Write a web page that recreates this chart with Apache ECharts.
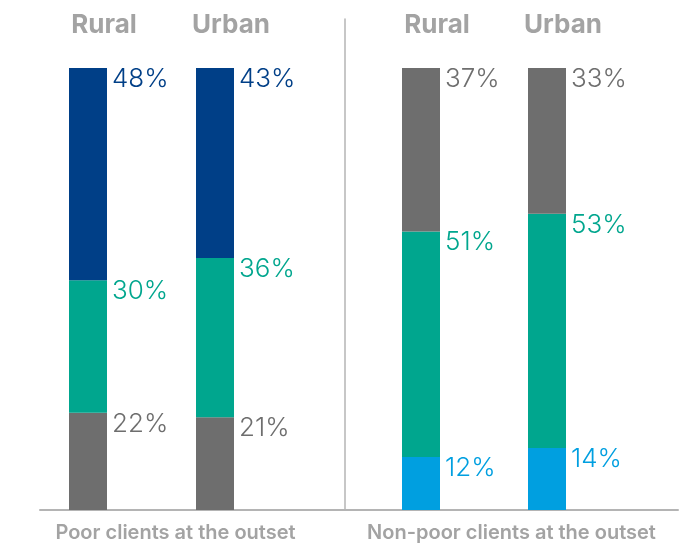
<!DOCTYPE html>
<html>
<head>
<meta charset="utf-8">
<script src="https://cdn.jsdelivr.net/npm/echarts@6/dist/echarts.min.js"></script>
<style>
  html, body { margin: 0; padding: 0; background: #fff; }
  #chart { width: 691px; height: 546px; }
</style>
</head>
<body>
<div id="chart"></div>
<script>
// Client poverty status, split by area and group
const areas = ['Rural', 'Urban'];
const groups = ['Poor clients at the outset', 'Non-poor clients at the outset'];

// Poor clients at the outset (bottom to top)
const poorGrey = [22, 21];
const poorGreen = [30, 36];
const poorBlue = [48, 43];

// Non-poor clients at the outset (bottom to top)
const nonPoorLightBlue = [12, 14];
const nonPoorGreen = [51, 53];
const nonPoorGrey = [37, 33];

const C_BLUE = '#003f87';
const C_GREEN = '#00a68e';
const C_GREY = '#6e6e6e';
const C_LIGHT = '#009fe0';
const C_TEXT = '#a3a3a3';
const C_LINE = '#b4b4b4';
const FONT = 'Inter';

const chart = echarts.init(document.getElementById('chart'));

function seg(name, data, color, axisIdx) {
  return {
    name: name,
    type: 'bar',
    stack: 'g' + axisIdx,
    xAxisIndex: axisIdx,
    yAxisIndex: axisIdx,
    data: data,
    barWidth: 38,
    itemStyle: { color: color },
    silent: true,
    label: {
      show: true,
      position: ['100%', 0],
      offset: [5, -2],
      align: 'left',
      verticalAlign: 'top',
      formatter: '{c}%',
      color: color,
      fontFamily: FONT,
      fontWeight: 300,
      fontSize: 26
    }
  };
}

const barTop = 68;
const barBottom = 36;

function headAxis(grid) {
  return {
    type: 'category', gridIndex: grid, data: areas, position: 'top',
    axisLine: { show: false }, axisTick: { show: false },
    axisLabel: {
      color: C_TEXT, fontFamily: FONT, fontWeight: 'bold', fontSize: 26,
      margin: 30, padding: [0, 0, 0, 32]
    }
  };
}

function valueAxis(grid) {
  return {
    type: 'value', gridIndex: grid, min: 0, max: 100,
    show: false, splitLine: { show: false }
  };
}

function groupName(text, padRight) {
  return {
    name: text, nameLocation: 'middle', nameGap: 13,
    nameTextStyle: {
      color: C_TEXT, fontFamily: FONT, fontWeight: 600, fontSize: 20,
      padding: [0, padRight, 0, 0]
    }
  };
}

const gridBase = { outerBoundsMode: 'none', containLabel: false };

chart.setOption({
  animation: false,
  backgroundColor: '#ffffff',
  grid: [
    Object.assign({ left: 24.5, width: 254, top: barTop, bottom: barBottom }, gridBase),
    Object.assign({ left: 358, width: 252, top: barTop, bottom: barBottom }, gridBase),
    Object.assign({ left: 40, width: 305, top: barTop, bottom: barBottom }, gridBase),
    Object.assign({ left: 345, right: 13, top: 19, bottom: barBottom }, gridBase)
  ],
  xAxis: [
    headAxis(0),
    headAxis(1),
    Object.assign({
      type: 'category', gridIndex: 2, data: [''],
      axisLine: { lineStyle: { color: C_LINE, width: 2 } },
      axisTick: { show: false }, axisLabel: { show: false }
    }, groupName(groups[0], 34)),
    Object.assign({
      type: 'category', gridIndex: 3, data: [''],
      axisLine: { lineStyle: { color: C_LINE, width: 2 } },
      axisTick: { show: false }, axisLabel: { show: false }
    }, groupName(groups[1], 0))
  ],
  yAxis: [
    valueAxis(0),
    valueAxis(1),
    valueAxis(2),
    {
      type: 'value', gridIndex: 3, min: 0, max: 100,
      axisLine: { show: true, lineStyle: { color: C_LINE, width: 1.5 } },
      axisTick: { show: false }, axisLabel: { show: false }, splitLine: { show: false }
    }
  ],
  series: [
    seg('Grey', poorGrey, C_GREY, 0),
    seg('Green', poorGreen, C_GREEN, 0),
    seg('Blue', poorBlue, C_BLUE, 0),
    seg('Light blue', nonPoorLightBlue, C_LIGHT, 1),
    seg('Green', nonPoorGreen, C_GREEN, 1),
    seg('Grey', nonPoorGrey, C_GREY, 1)
  ]
});
</script>
</body>
</html>
